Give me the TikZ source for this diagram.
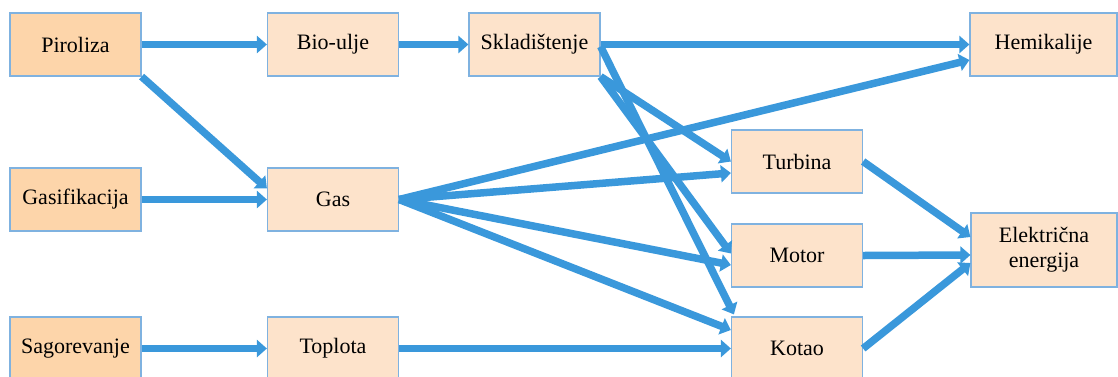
\documentclass[tikz,border=0pt]{standalone}
\usepackage{fontspec}
\setmainfont{Liberation Serif}
\usetikzlibrary{arrows.meta}
\definecolor{flow}{HTML}{3A98DB}
\definecolor{boxline}{HTML}{7FB2E0}
\definecolor{srcfill}{HTML}{FDD5AA}
\definecolor{stagefill}{HTML}{FDE3CB}
\tikzset{
  stagebox/.style={draw=boxline, line width=1.2pt, fill=stagefill,
    minimum width=131pt, minimum height=63pt, inner sep=0pt,
    align=center, font=\fontsize{22}{25}\selectfont},
  srcbox/.style={stagebox, fill=srcfill},
  flowarrow/.style={draw=flow, line width=7.5pt,
    -{Triangle[length=10pt,width=17pt]}},
}
\begin{document}
\begin{tikzpicture}[x=1pt,y=-1pt]
  \useasboundingbox (0,0) rectangle (1118,376);

  % process sources
  \node[srcbox] (pir) at (75.5,44.5) {Piroliza};
  \node[srcbox] (gsf) at (75.5,199.5) {Gasifikacija};
  \node[srcbox] (sag) at (75.5,348.5) {Sagorevanje};

  % intermediate products
  \node[stagebox] (bio) at (333,44.5) {Bio-ulje};
  \node[stagebox] (gas) at (333,199.5) {Gas};
  \node[stagebox] (top) at (333,348.5) {Toplota};
  \node[stagebox] (skl) at (534.5,44.5) {Skladištenje};

  % conversion units
  \node[stagebox] (tur) at (797,161.5) {Turbina};
  \node[stagebox] (mot) at (797,255.5) {Motor};
  \node[stagebox] (kot) at (797,348.5) {Kotao};

  % end uses
  \node[stagebox, minimum width=147pt] (hem) at (1043.5,44.5) {Hemikalije};
  \node[stagebox, minimum width=146pt, minimum height=74pt] (ele) at (1044,250)
    {Električna\\energija};

  % flows
  \draw[flowarrow] (pir.east) -- (bio.west);
  \draw[flowarrow] (pir.south east) -- ([yshift=11pt]gas.west);
  \draw[flowarrow] (gsf.east) -- (gas.west);
  \draw[flowarrow] (sag.east) -- (top.west);
  \draw[flowarrow] (bio.east) -- (skl.west);
  \draw[flowarrow] (skl.east) -- (hem.west);
  \draw[flowarrow] ([yshift=-2pt]skl.east) -- ([xshift=3pt,yshift=2pt]kot.north west);
  \draw[flowarrow] (skl.south east) -- (tur.west);
  \draw[flowarrow] (skl.south east) -- ([yshift=2pt]mot.west);
  \draw[flowarrow] (gas.east) -- ([yshift=-15.5pt]hem.west);
  \draw[flowarrow] (gas.east) -- ([yshift=-11.5pt]tur.west);
  \draw[flowarrow] (gas.east) -- ([yshift=-9.5pt]mot.west);
  \draw[flowarrow] (gas.east) -- ([yshift=18.5pt]kot.west);
  \draw[flowarrow] (top.east) -- (kot.west);
  \draw[flowarrow] (tur.east) -- ([yshift=13pt]ele.west);
  \draw[flowarrow] (mot.east) -- ([yshift=-5pt]ele.west);
  \draw[flowarrow] (kot.east) -- ([yshift=-13pt]ele.west);
\end{tikzpicture}
\end{document}
